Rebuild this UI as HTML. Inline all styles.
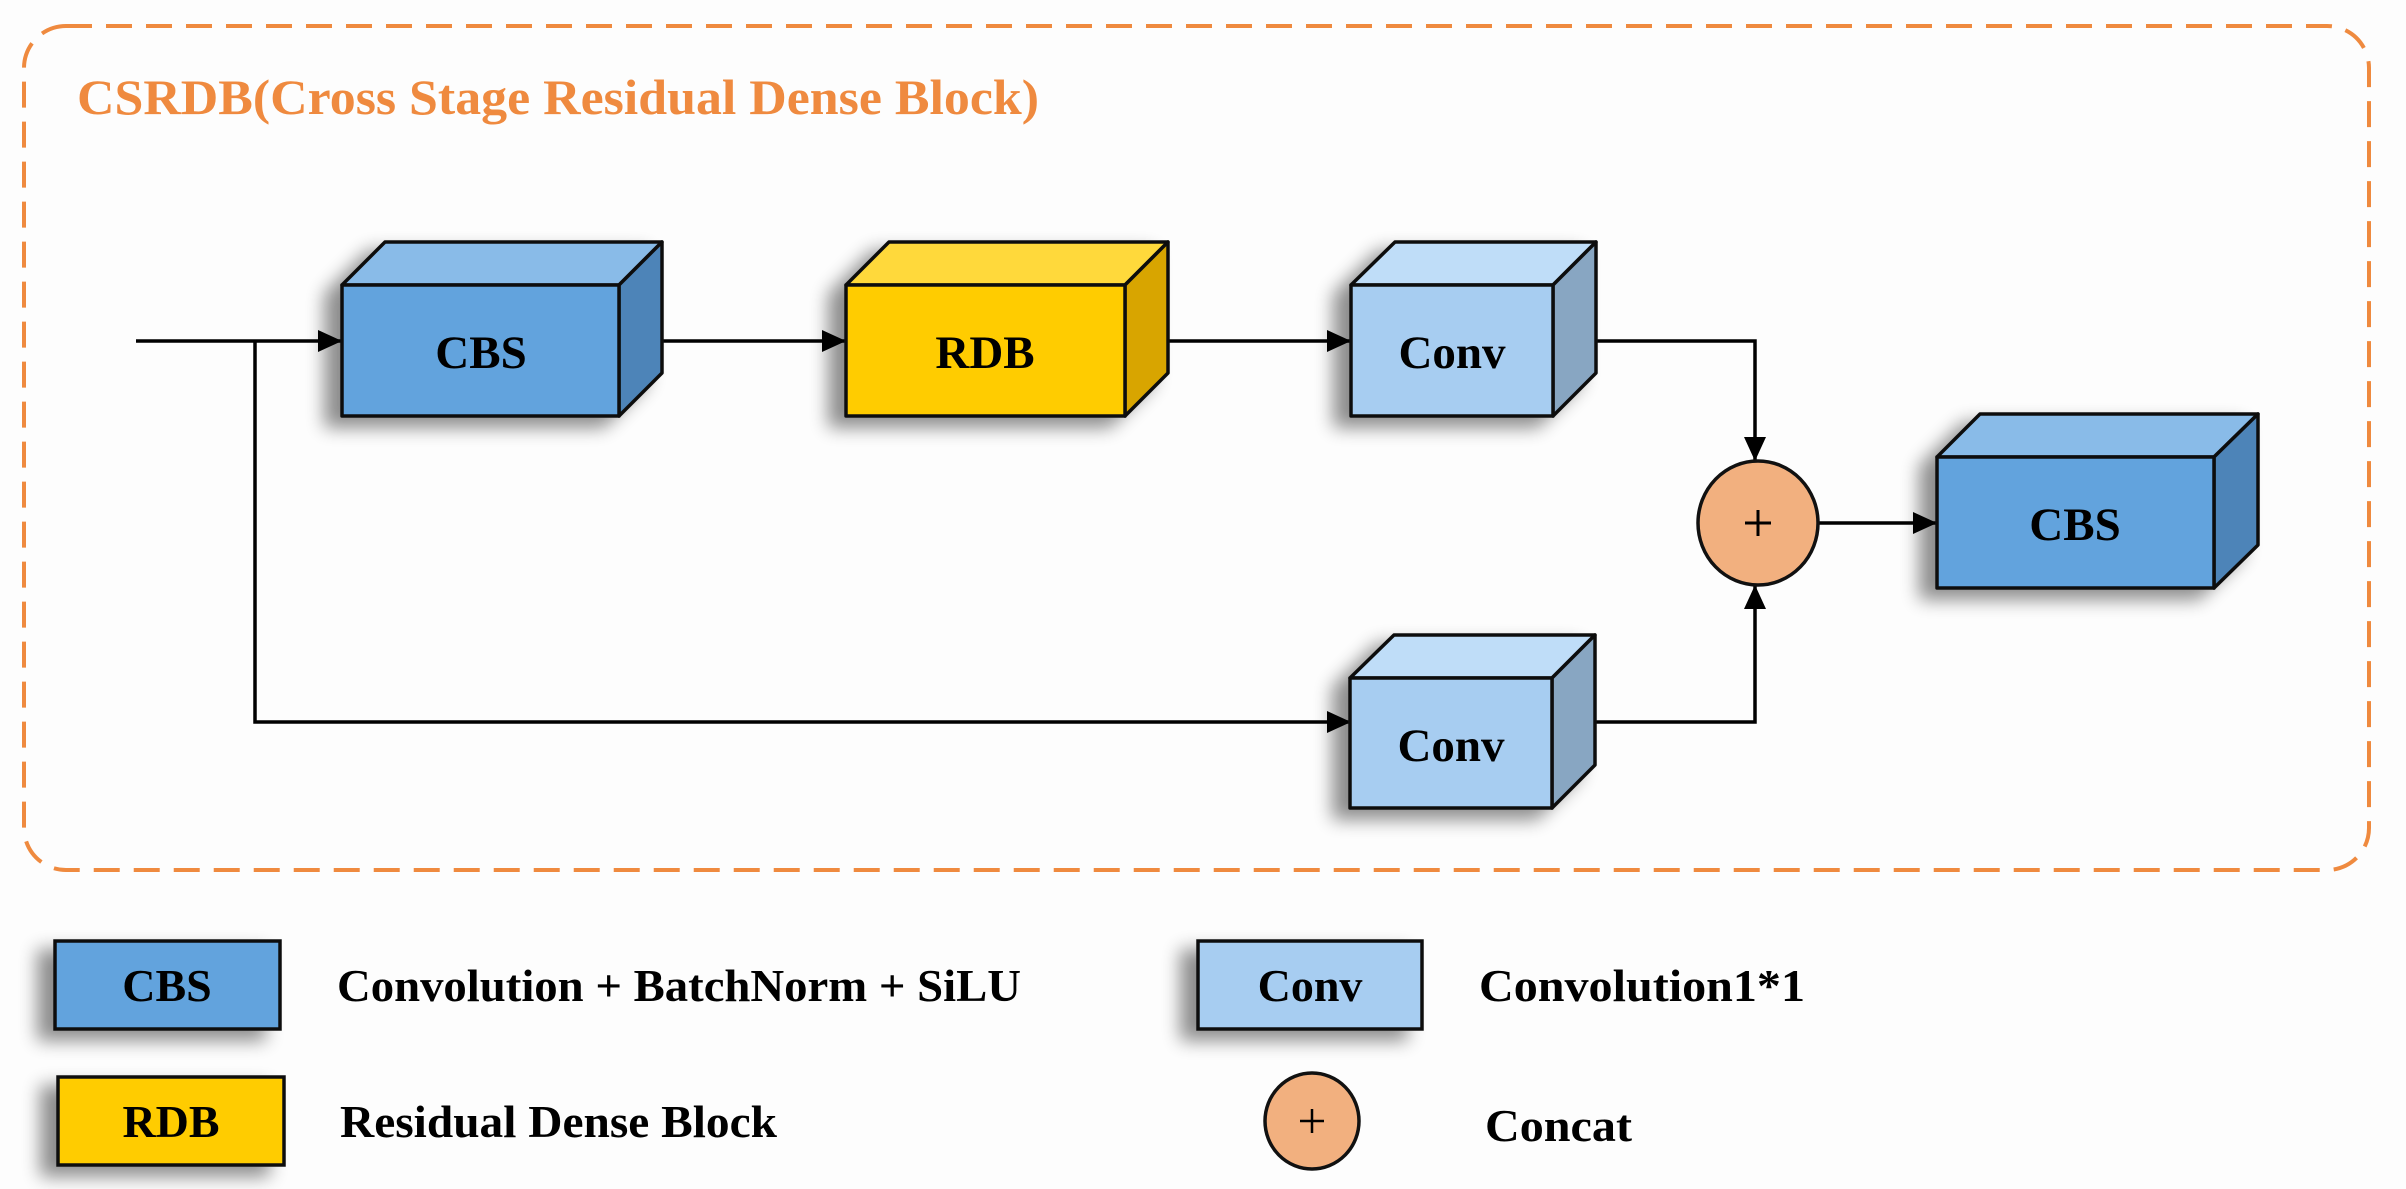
<!DOCTYPE html>
<html><head><meta charset="utf-8"><style>
html,body{margin:0;padding:0;background:#fdfdfd;}
svg{display:block;}
text{font-family:"Liberation Serif",serif;font-weight:bold;}
</style></head><body>
<svg width="2406" height="1189" viewBox="0 0 2406 1189" xmlns="http://www.w3.org/2000/svg">
<defs>
<filter id="sh" x="-30%" y="-30%" width="160%" height="170%">
<feGaussianBlur in="SourceAlpha" stdDeviation="9"/>
<feOffset dx="-16" dy="10" result="b"/>
<feComponentTransfer><feFuncA type="linear" slope="0.45"/></feComponentTransfer>
<feMerge><feMergeNode/><feMergeNode in="SourceGraphic"/></feMerge>
</filter>
<marker id="ar" markerWidth="24" markerHeight="22" refX="23" refY="11" orient="auto" markerUnits="userSpaceOnUse" viewBox="0 0 24 22">
<path d="M0,0 L24,11 L0,22 z" fill="#000"/>
</marker>
</defs>
<rect x="0" y="0" width="2406" height="1189" fill="#fdfdfd"/>
<rect x="24" y="26" width="2345" height="844" rx="42" ry="42" fill="none" stroke="#ef8a3f" stroke-width="4" stroke-dasharray="26,14"/>
<text x="77" y="114" font-size="50" fill="#ef8a3f" textLength="962" lengthAdjust="spacingAndGlyphs">CSRDB(Cross Stage Residual Dense Block)</text>

<!-- connectors -->
<g stroke="#000" stroke-width="3.5" fill="none">
<line x1="136" y1="341" x2="341" y2="341" marker-end="url(#ar)"/>
<polyline points="255,341 255,722 1350,722" marker-end="url(#ar)"/>
<line x1="641" y1="341" x2="845" y2="341" marker-end="url(#ar)"/>
<line x1="1145" y1="341" x2="1350" y2="341" marker-end="url(#ar)"/>
<polyline points="1575,341 1755,341 1755,460" marker-end="url(#ar)"/>
<polyline points="1575,722 1755,722 1755,586" marker-end="url(#ar)"/>
<line x1="1817" y1="523" x2="1936" y2="523" marker-end="url(#ar)"/>
</g>

<!-- 3D boxes -->
<g stroke="#111" stroke-width="3.5" stroke-linejoin="round">
<g filter="url(#sh)">
<polygon points="342,285 385,242 662,242 619,285" fill="#89bbe8"/>
<polygon points="619,285 662,242 662,373 619,416" fill="#4e84b8"/>
<rect x="342" y="285" width="277" height="131" fill="#62a3dd"/>
</g>
<g filter="url(#sh)">
<polygon points="846,285 889,242 1168,242 1125,285" fill="#ffd93a"/>
<polygon points="1125,285 1168,242 1168,373 1125,416" fill="#d8a500"/>
<rect x="846" y="285" width="279" height="131" fill="#ffcc05"/>
</g>
<g filter="url(#sh)">
<polygon points="1351,285 1395,242 1596,242 1553,285" fill="#bfddf8"/>
<polygon points="1553,285 1596,242 1596,373 1553,416" fill="#88a6c2"/>
<rect x="1351" y="285" width="202" height="131" fill="#a7cdf1"/>
</g>
<g filter="url(#sh)">
<polygon points="1350,678 1394,635 1595,635 1552,678" fill="#bfddf8"/>
<polygon points="1552,678 1595,635 1595,765 1552,808" fill="#88a6c2"/>
<rect x="1350" y="678" width="202" height="130" fill="#a7cdf1"/>
</g>
<g filter="url(#sh)">
<polygon points="1937,457 1980,414 2258,414 2214,457" fill="#89bbe8"/>
<polygon points="2214,457 2258,414 2258,545 2214,588" fill="#4e84b8"/>
<rect x="1937" y="457" width="277" height="131" fill="#62a3dd"/>
</g>
<ellipse cx="1758" cy="523" rx="60" ry="62" fill="#f2b07f"/>
</g>
<g stroke="#000" stroke-width="3">
<line x1="1758" y1="510" x2="1758" y2="536"/><line x1="1745" y1="523" x2="1771" y2="523"/>
</g>

<g font-size="47" fill="#000" text-anchor="middle">
<text x="481" y="368">CBS</text>
<text x="985" y="368">RDB</text>
<text x="1452" y="368">Conv</text>
<text x="1451" y="761">Conv</text>
<text x="2075" y="540">CBS</text>
</g>

<!-- legend -->
<g stroke="#111" stroke-width="3.5">
<rect x="55" y="941" width="225" height="88" fill="#62a3dd" filter="url(#sh)"/>
<rect x="58" y="1077" width="226" height="88" fill="#ffcc05" filter="url(#sh)"/>
<rect x="1198" y="941" width="224" height="88" fill="#a7cdf1" filter="url(#sh)"/>
<ellipse cx="1312" cy="1121" rx="47" ry="48" fill="#f2b07f"/>
</g>
<g stroke="#000" stroke-width="2.5">
<line x1="1312" y1="1109" x2="1312" y2="1133"/><line x1="1300" y1="1121" x2="1324" y2="1121"/>
</g>
<g font-size="46" fill="#000">
<text x="167" y="1001" text-anchor="middle">CBS</text>
<text x="171" y="1137" text-anchor="middle">RDB</text>
<text x="1310" y="1001" text-anchor="middle">Conv</text>
<text x="337" y="1001" textLength="684" lengthAdjust="spacingAndGlyphs">Convolution + BatchNorm + SiLU</text>
<text x="1479" y="1001" textLength="326" lengthAdjust="spacingAndGlyphs">Convolution1*1</text>
<text x="340" y="1137" textLength="437" lengthAdjust="spacingAndGlyphs">Residual Dense Block</text>
<text x="1485" y="1141" textLength="147" lengthAdjust="spacingAndGlyphs">Concat</text>
</g>
</svg>
</body></html>
